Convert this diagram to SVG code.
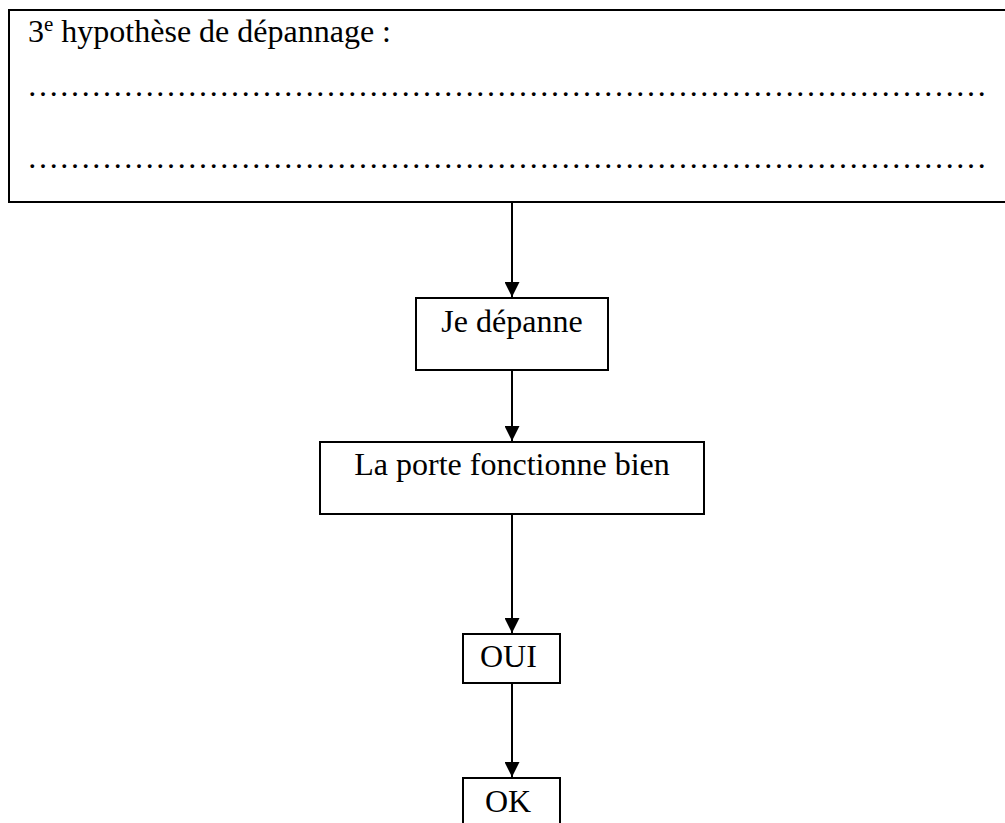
<svg xmlns="http://www.w3.org/2000/svg" width="1005" height="823" viewBox="0 0 1005 823">
  <style>
    .box { fill: #ffffff; stroke: #000000; stroke-width: 2; }
    .lbl { font-family: "Liberation Serif", "Times New Roman", serif; font-size: 32px; fill: #000000; }
    .mid { text-anchor: middle; }
    .link { stroke: #000000; stroke-width: 2; fill: none; marker-end: url(#arrow); }
  </style>
  <defs>
    <marker id="arrow" markerUnits="userSpaceOnUse" markerWidth="15" markerHeight="15" refX="15" refY="7.5" orient="auto">
      <path d="M0,0 L15,7.5 L0,15 z" fill="#000000"/>
    </marker>
  </defs>
  <rect width="1005" height="823" fill="#ffffff"/>

  <!-- header box: troubleshooting hypothesis with blank lines to fill -->
  <g id="hypothese">
    <rect class="box" x="9" y="10" width="1010" height="192"/>
    <text class="lbl" x="28" y="42">3<tspan font-size="21" dy="-11">e</tspan><tspan dy="11"> hypothèse de dépannage :</tspan></text>
    <!-- 30 ellipsis characters per fill-in line -->
    <text class="lbl" x="27" y="96">&#8230;&#8230;&#8230;&#8230;&#8230;&#8230;&#8230;&#8230;&#8230;&#8230;&#8230;&#8230;&#8230;&#8230;&#8230;&#8230;&#8230;&#8230;&#8230;&#8230;&#8230;&#8230;&#8230;&#8230;&#8230;&#8230;&#8230;&#8230;&#8230;&#8230;</text>
    <text class="lbl" x="27" y="168">&#8230;&#8230;&#8230;&#8230;&#8230;&#8230;&#8230;&#8230;&#8230;&#8230;&#8230;&#8230;&#8230;&#8230;&#8230;&#8230;&#8230;&#8230;&#8230;&#8230;&#8230;&#8230;&#8230;&#8230;&#8230;&#8230;&#8230;&#8230;&#8230;&#8230;</text>
  </g>

  <g id="depanne">
    <rect class="box" x="416" y="298" width="192" height="72"/>
    <text class="lbl mid" x="512" y="332">Je dépanne</text>
  </g>

  <g id="fonctionne">
    <rect class="box" x="320" y="442" width="384" height="72"/>
    <text class="lbl mid" x="512" y="475">La porte fonctionne bien</text>
  </g>

  <g id="oui">
    <rect class="box" x="463" y="634" width="97" height="49"/>
    <text class="lbl" x="480" y="667">OUI</text>
  </g>

  <g id="ok">
    <rect class="box" x="463" y="778" width="97" height="60"/>
    <text class="lbl" x="485" y="812">OK</text>
  </g>

  <g id="connectors">
    <line class="link" x1="512" y1="202" x2="512" y2="297"/>
    <line class="link" x1="512" y1="370" x2="512" y2="441"/>
    <line class="link" x1="512" y1="514" x2="512" y2="633"/>
    <line class="link" x1="512" y1="683" x2="512" y2="777"/>
  </g>
</svg>
